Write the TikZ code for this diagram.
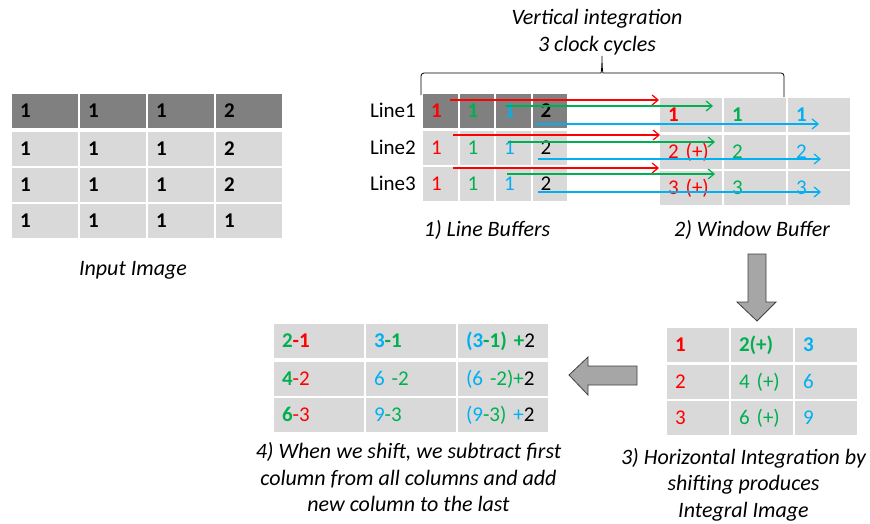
\documentclass[tikz,border=0pt]{standalone}
\usepackage{fontspec}
\setmainfont{Carlito}
\usetikzlibrary{arrows.meta,positioning,calc}
\definecolor{cellgray}{HTML}{D9D9D9}
\definecolor{darkcell}{HTML}{808080}
\definecolor{vred}{HTML}{FF0000}
\definecolor{vgreen}{HTML}{00B050}
\definecolor{vblue}{HTML}{00B0F0}
\definecolor{blockgray}{HTML}{A6A6A6}
\newcommand{\basefont}{\fontsize{21}{26.5}\selectfont}
\newcommand{\capfont}{\fontsize{22}{26.5}\selectfont}
\newcommand{\cred}[1]{\textcolor{vred}{#1}}
\newcommand{\cgrn}[1]{\textcolor{vgreen}{#1}}
\newcommand{\cblu}[1]{\textcolor{vblue}{#1}}

\begin{document}
\begin{tikzpicture}[
  x=1pt, y=1pt,
  cell/.style={draw=white, line width=2pt, fill=cellgray, outer sep=0pt, inner xsep=9pt, inner ysep=0pt,
    minimum height=36pt, text height=13.5pt, text depth=0pt, align=left, font=\basefont},
  incell/.style={cell, minimum width=68pt, text width=50pt, font=\basefont\bfseries},
  lbcell/.style={cell, minimum width=36.5pt, text width=18.5pt},
  wbcell/.style={cell, minimum width=64pt, text width=46pt},
  sbcell/.style={cell, minimum width=92pt, text width=74pt},
  hdr/.style={font=\basefont\bfseries},
  lbl/.style={font=\basefont, inner sep=0pt},
  caption/.style={font=\capfont\itshape, align=center, inner sep=0pt},
  flow/.style={line width=1.2pt, -{Straight Barb[length=6pt,width=10pt]}},
  block/.style={fill=blockgray, draw=black!75, line width=0.8pt, line join=miter}
]
\useasboundingbox (0,0) rectangle (870,-523);

% input image
\node[incell, fill=darkcell] (in11) at (45,-110.5) {1};
\node[incell, fill=darkcell, right=0pt of in11] (in12) {1};
\node[incell, fill=darkcell, right=0pt of in12] (in13) {1};
\node[incell, fill=darkcell, right=0pt of in13] (in14) {2};
\node[incell, below=2pt of in11] (in21) {1};
\node[incell, right=0pt of in21] (in22) {1};
\node[incell, right=0pt of in22] (in23) {1};
\node[incell, right=0pt of in23] (in24) {2};
\node[incell, below=0pt of in21] (in31) {1};
\node[incell, right=0pt of in31] (in32) {1};
\node[incell, right=0pt of in32] (in33) {1};
\node[incell, right=0pt of in33] (in34) {2};
\node[incell, below=0pt of in31] (in41) {1};
\node[incell, right=0pt of in41] (in42) {1};
\node[incell, right=0pt of in42] (in43) {1};
\node[incell, right=0pt of in43] (in44) {1};
\node[caption, anchor=base] (cinput) at (133,-275) {Input Image};

% line buffers
\node[lbcell, hdr, fill=darkcell] (lb11) at (440.25,-110.5) {\cred{1}};
\node[lbcell, hdr, fill=darkcell, right=0pt of lb11] (lb12) {\cgrn{1}};
\node[lbcell, hdr, fill=darkcell, right=0pt of lb12] (lb13) {\cblu{1}};
\node[lbcell, hdr, fill=darkcell, right=0pt of lb13] (lb14) {2};
\node[lbcell, below=1pt of lb11] (lb21) {\cred{1}};
\node[lbcell, right=0pt of lb21] (lb22) {\cgrn{1}};
\node[lbcell, right=0pt of lb22] (lb23) {\cblu{1}};
\node[lbcell, right=0pt of lb23] (lb24) {2};
\node[lbcell, below=0pt of lb21] (lb31) {\cred{1}};
\node[lbcell, right=0pt of lb31] (lb32) {\cgrn{1}};
\node[lbcell, right=0pt of lb32] (lb33) {\cblu{1}};
\node[lbcell, right=0pt of lb33] (lb34) {2};
\node[lbl, left=6pt of lb11] (line1) {Line1};
\node[lbl, left=6pt of lb21] (line2) {Line2};
\node[lbl, left=6pt of lb31] (line3) {Line3};
\node[caption, anchor=base] (clb) at (487,-236) {1) Line Buffers};

% window buffer
\node[wbcell, hdr] (wb11) at (691,-114.5) {\cred{1}};
\node[wbcell, hdr, right=0pt of wb11] (wb12) {\cgrn{1}};
\node[wbcell, hdr, right=0pt of wb12] (wb13) {\cblu{1}};
\node[wbcell, below=1pt of wb11] (wb21) {\cred{2 (+)}};
\node[wbcell, right=0pt of wb21] (wb22) {\cgrn{2}};
\node[wbcell, right=0pt of wb22] (wb23) {\cblu{2}};
\node[wbcell, below=0pt of wb21] (wb31) {\cred{3 (+)}};
\node[wbcell, right=0pt of wb31] (wb32) {\cgrn{3}};
\node[wbcell, right=0pt of wb32] (wb33) {\cblu{3}};
\node[caption, anchor=base] (cwb) at (752,-236) {2) Window Buffer};

% vertical integration brace
\draw[line width=0.8pt, rounded corners=3pt] (421,-95) -- (421,-73) -- (598,-73)
  .. controls (601,-73) and (602,-70) .. (602,-54) .. controls (602,-70) and (603,-73) .. (606,-73)
  -- (784,-73) -- (784,-97);
\node[caption] (cvert) at (597,-32) {Vertical integration\\3 clock cycles};

% shifting into the window
\coordinate (r1) at (450,-100);
\coordinate (g1) at (506,-106);
\coordinate (b1) at (535,-124);
\coordinate (r2) at (453,-135);
\coordinate (g2) at (508,-142);
\coordinate (b2) at (538,-159);
\coordinate (r3) at (453,-168);
\coordinate (g3) at (507,-174);
\coordinate (b3) at (538,-192);
\draw[flow, vred] (r1) -- (r1 -| wb11.west);
\draw[flow, vgreen] (g1) -- ($(g1 -| wb12.west)+(-10,0)$);
\draw[flow, vblue] (b1) -- (b1 -| wb13.center);
\draw[flow, vred] (r2) -- ($(r2 -| wb21.west)+(1,0)$);
\draw[flow, vgreen] (g2) -- ($(g2 -| wb22.west)+(-8,0)$);
\draw[flow, vblue] (b2) -- ($(b2 -| wb23.center)+(2,0)$);
\draw[flow, vred] (r3) -- (r3 -| wb31.west);
\draw[flow, vgreen] (g3) -- ($(g3 -| wb32.west)+(-8,0)$);
\draw[flow, vblue] (b3) -- ($(b3 -| wb33.center)+(2,0)$);

% integral image
\node[wbcell, hdr] (ic11) at (698,-344.5) {\cred{1}};
\node[wbcell, hdr, right=0pt of ic11] (ic12) {\cgrn{2(+)}};
\node[wbcell, hdr, right=0pt of ic12] (ic13) {\cblu{3}};
\node[wbcell, below=1pt of ic11] (ic21) {\cred{2}};
\node[wbcell, right=0pt of ic21] (ic22) {\cgrn{4 (+)}};
\node[wbcell, right=0pt of ic22] (ic23) {\cblu{6}};
\node[wbcell, below=0.5pt of ic21] (ic31) {\cred{3}};
\node[wbcell, right=0pt of ic31] (ic32) {\cgrn{6 (+)}};
\node[wbcell, right=0pt of ic32] (ic33) {\cblu{9}};
\node[caption] (cint) at (743.5,-484.5) {3) Horizontal Integration by\\shifting produces\\Integral Image};

% subtraction of the first column
\node[sbcell, hdr] (sb11) at (319,-341) {\cgrn{2}\cred{-1}};
\node[sbcell, hdr, right=0pt of sb11] (sb12) {\cblu{3}\cgrn{-1}};
\node[sbcell, hdr, right=0pt of sb12] (sb13) {\cblu{(3}\cgrn{-1) +}{\mdseries 2}};
\node[sbcell, below=1.5pt of sb11] (sb21) {\cgrn{\textbf{4}}\cred{-2}};
\node[sbcell, right=0pt of sb21] (sb22) {\cblu{6 }\cgrn{-2}};
\node[sbcell, right=0pt of sb22] (sb23) {\cblu{(6 }\cgrn{-2)+}2};
\node[sbcell, below=0pt of sb21] (sb31) {\cgrn{\textbf{6}}\cred{-3}};
\node[sbcell, right=0pt of sb31] (sb32) {\cblu{9}\cgrn{-3}};
\node[sbcell, right=0pt of sb32] (sb33) {\cblu{(9}\cgrn{-3)}\ \cblu{+}2};
\node[caption] (csub) at (408.5,-477.5) {4) When we shift, we subtract first\\column from all columns and add\\new column to the last};

% block arrows
\draw[block] (748,-254) -- (766,-254) -- (766,-302) -- (776,-302) -- (757,-321) -- (737,-302) -- (748,-302) -- cycle;
\draw[block] (637,-366) -- (588,-366) -- (588,-357) -- (569,-375) -- (588,-395) -- (588,-385) -- (637,-385) -- cycle;
\end{tikzpicture}
\end{document}
